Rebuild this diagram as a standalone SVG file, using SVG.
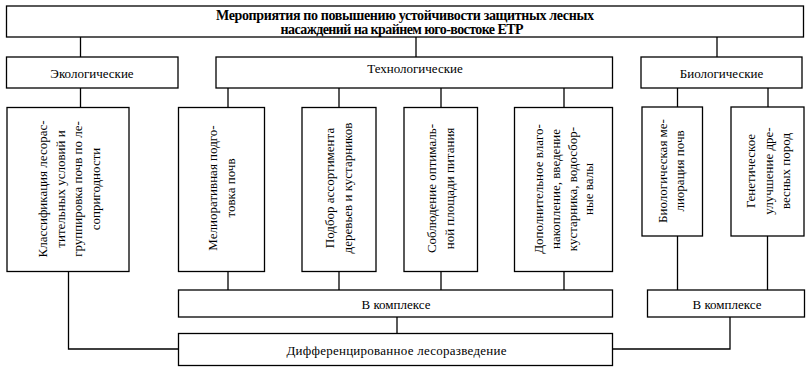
<svg xmlns="http://www.w3.org/2000/svg" width="810" height="372" viewBox="0 0 810 372">
<style>
.box{fill:#fff;stroke:#000;stroke-width:1.3}
.conn{fill:none;stroke:#000;stroke-width:1.3}
.t{font-family:"Liberation Serif","Times New Roman",serif;font-size:13px;text-anchor:middle;fill:#000}
.title{font-weight:bold;font-size:14px}
</style>
<rect width="810" height="372" fill="#fff"/>
<g id="connectors">
<line class="conn" x1="80.5" y1="37" x2="80.5" y2="57"/>
<line class="conn" x1="416" y1="37" x2="416" y2="57"/>
<line class="conn" x1="717" y1="37" x2="717" y2="57"/>
<line class="conn" x1="80.5" y1="88" x2="80.5" y2="107"/>
<line class="conn" x1="228" y1="88" x2="228" y2="107"/>
<line class="conn" x1="339" y1="88" x2="339" y2="107"/>
<line class="conn" x1="441" y1="88" x2="441" y2="107"/>
<line class="conn" x1="564" y1="88" x2="564" y2="107"/>
<line class="conn" x1="677.5" y1="88" x2="677.5" y2="107"/>
<line class="conn" x1="768" y1="88" x2="768" y2="107"/>
<line class="conn" x1="228" y1="271" x2="228" y2="290"/>
<line class="conn" x1="339" y1="271" x2="339" y2="290"/>
<line class="conn" x1="441" y1="271" x2="441" y2="290"/>
<line class="conn" x1="564" y1="271" x2="564" y2="290"/>
<line class="conn" x1="677.5" y1="236" x2="677.5" y2="290"/>
<line class="conn" x1="767.5" y1="236" x2="767.5" y2="290"/>
<line class="conn" x1="397" y1="317" x2="397" y2="333"/>
<polyline class="conn" points="68.5,271 68.5,349 178,349"/>
<polyline class="conn" points="730,317 730,349 612,349"/>
</g>
<g id="title">
<rect class="box" x="6.5" y="6" width="797" height="31"/>
<text class="t title" x="405" y="19.5" textLength="378">Мероприятия по повышению устойчивости защитных лесных</text>
<text class="t title" x="402" y="33.5" textLength="243">насаждений на крайнем юго-востоке ЕТР</text>
</g>
<g id="eco">
<rect class="box" x="6.5" y="57" width="171.5" height="31"/>
<text class="t" x="92" y="77.5">Экологические</text>
</g>
<g id="tech">
<rect class="box" x="216" y="57" width="396.5" height="31"/>
<text class="t" x="415" y="73">Технологические</text>
</g>
<g id="bio">
<rect class="box" x="641" y="57" width="161" height="31"/>
<text class="t" x="721.5" y="77.5">Биологические</text>
</g>
<g id="n1">
<rect class="box" x="7" y="107.5" width="122" height="164"/>
<text class="t" transform="translate(47,189) rotate(-90)">Классификация лесорас-</text>
<text class="t" transform="translate(64.5,189) rotate(-90)">тительных  условий и</text>
<text class="t" transform="translate(82,189) rotate(-90)">группировка почв по ле-</text>
<text class="t" transform="translate(99.5,189) rotate(-90)">сопригодности</text>
</g>
<g id="n2">
<rect class="box" x="178.5" y="107.5" width="86" height="164"/>
<text class="t" transform="translate(217,188) rotate(-90)">Мелиоративная подго-</text>
<text class="t" transform="translate(235,188) rotate(-90)">товка почв</text>
</g>
<g id="n3">
<rect class="box" x="302" y="107.5" width="74" height="164"/>
<text class="t" transform="translate(333.5,188) rotate(-90)">Подбор ассортимента</text>
<text class="t" transform="translate(351.5,188) rotate(-90)">деревьев и кустарников</text>
</g>
<g id="n4">
<rect class="box" x="404" y="107.5" width="73.5" height="164"/>
<text class="t" transform="translate(436,188.5) rotate(-90)">Соблюдение оптималь-</text>
<text class="t" transform="translate(454,188.5) rotate(-90)">ной площади питания</text>
</g>
<g id="n5">
<rect class="box" x="514.5" y="107.5" width="98" height="164"/>
<text class="t" transform="translate(543,189) rotate(-90)">Дополнительное влаго-</text>
<text class="t" transform="translate(560,189) rotate(-90)">накопление,  введение</text>
<text class="t" transform="translate(576.5,189) rotate(-90)">кустарника, водосбор-</text>
<text class="t" transform="translate(593,189) rotate(-90)">ные валы</text>
</g>
<g id="n6">
<rect class="box" x="642" y="107" width="60.5" height="129"/>
<text class="t" transform="translate(666.5,171) rotate(-90)">Биологическая ме-</text>
<text class="t" transform="translate(683.5,171) rotate(-90)">лиорация почв</text>
</g>
<g id="n7">
<rect class="box" x="731" y="107" width="73" height="129"/>
<text class="t" transform="translate(755,171) rotate(-90)">Генетическое</text>
<text class="t" transform="translate(773,171) rotate(-90)">улучшение дре-</text>
<text class="t" transform="translate(790,171) rotate(-90)">весных пород</text>
</g>
<g id="complex1">
<rect class="box" x="178.5" y="290" width="434" height="27"/>
<text class="t" x="396" y="308.5">В комплексе</text>
</g>
<g id="complex2">
<rect class="box" x="647.5" y="290" width="157" height="27"/>
<text class="t" x="727" y="309">В комплексе</text>
</g>
<g id="diff">
<rect class="box" x="178.5" y="333.5" width="434" height="32"/>
<text class="t" x="396.5" y="355" textLength="220">Дифференцированное лесоразведение</text>
</g>
</svg>
